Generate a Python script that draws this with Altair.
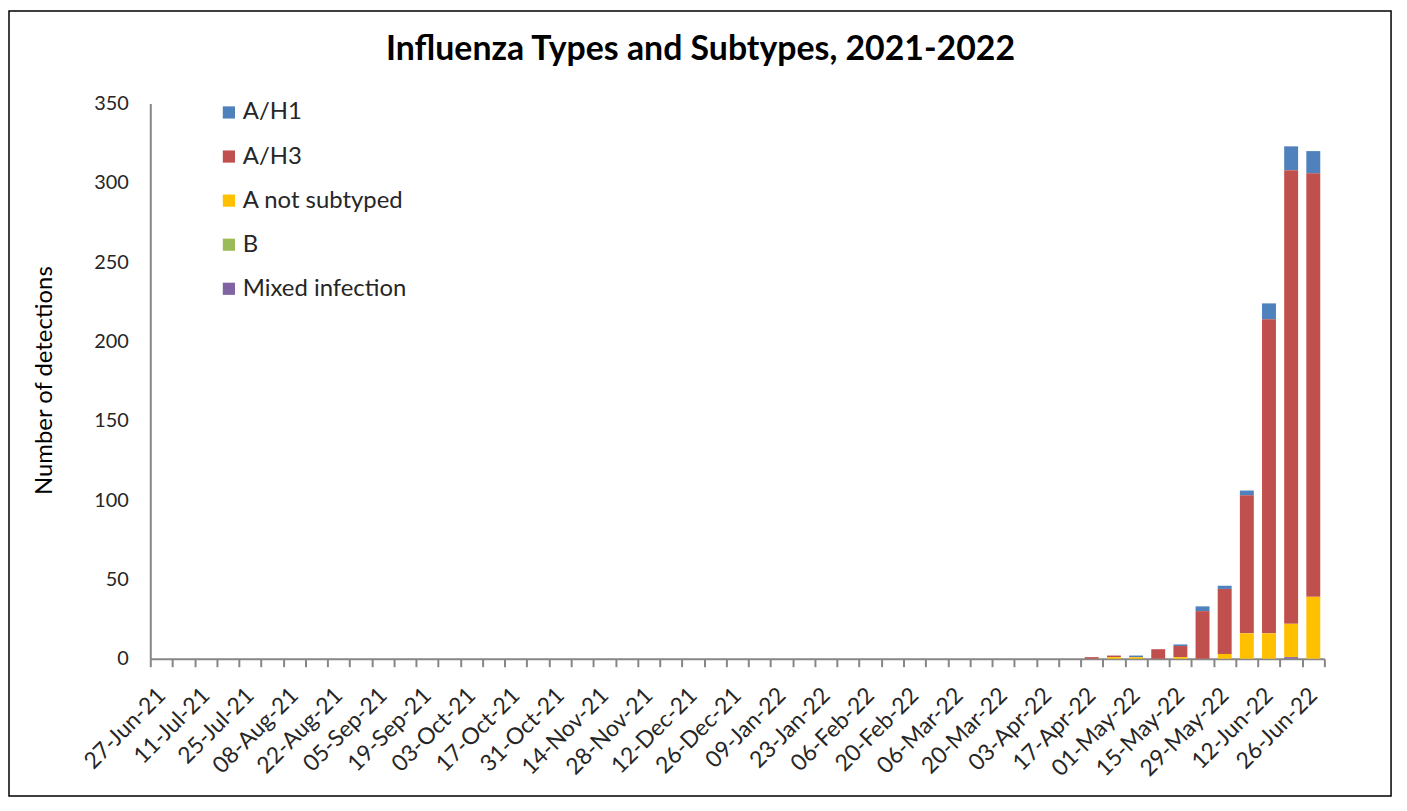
import altair as alt
import pandas as pd

weeks = [d.strftime("%d-%b-%y") for d in pd.date_range("2021-06-27", "2022-06-26", freq="7D")]
label_weeks = weeks[::2]

series = ["A/H1", "A/H3", "A not subtyped", "B", "Mixed infection"]
colors = ["#4F81BD", "#C0504D", "#FFC000", "#9BBB59", "#8064A2"]
stack_rank = [4, 3, 2, 1, 0]

a_h1 = [0] * 42 + [0, 0, 1, 0, 1, 3, 2, 3, 10, 15, 14]
a_h3 = [0] * 42 + [1, 1, 0, 6, 7, 30, 41, 87, 198, 286, 267]
a_not = [0] * 42 + [0, 1, 1, 0, 1, 0, 3, 16, 16, 21, 39]
b_vals = [0] * 42 + [0, 0, 0, 0, 0, 0, 0, 0, 0, 0, 0]
mixed = [0] * 42 + [0, 0, 0, 0, 0, 0, 0, 0, 0, 1, 0]

rows = []
for s, r, vals in zip(series, stack_rank, [a_h1, a_h3, a_not, b_vals, mixed]):
    for w, v in zip(weeks, vals):
        rows.append({"week": w, "series": s, "rank": r, "count": v})
df = pd.DataFrame(rows)

FONT = "Lato"
W, H = 1180, 558
label_js = "[" + ",".join("'%s'" % l for l in label_weeks) + "]"

bars = alt.Chart(df).mark_bar(size=14).encode(
    x=alt.X("week:N", sort=weeks, scale=alt.Scale(domain=weeks, paddingInner=0, paddingOuter=0),
            axis=alt.Axis(title=None, tickBand="extent", labelAngle=315, labelAlign="right",
                          labelBaseline="middle", labelFontSize=23, labelPadding=25,
                          labelExpr="indexof(" + label_js + ", datum.value) >= 0 ? datum.value : ''",
                          labelColor="#262626", labelFont=FONT, labelOverlap=False,
                          domainColor="#868686", domainWidth=2, tickColor="#868686",
                          tickWidth=2, tickSize=8, grid=False)),
    y=alt.Y("count:Q", stack="zero", scale=alt.Scale(domain=[0, 350]),
            axis=alt.Axis(title="Number of detections", values=list(range(0, 351, 50)),
                          labelFontSize=20, labelFont=FONT, labelColor="#262626",
                          labelPadding=22, ticks=False, grid=False,
                          domainColor="#868686", domainWidth=2,
                          titleFontSize=24, titleFont=FONT, titleFontWeight="normal",
                          titleColor="#000000", titleX=-106, titleY=H / 2 - 1, titleAngle=270,
                          titleAlign="center", titleBaseline="middle")),
    color=alt.Color("series:N", scale=alt.Scale(domain=series, range=colors),
                    legend=alt.Legend(title=None, orient="none", legendX=67, legendY=-3,
                                      symbolType="square", symbolSize=150, symbolStrokeWidth=0,
                                      labelFontSize=24, labelFont=FONT, labelColor="#262626",
                                      labelLimit=400, rowPadding=20.3, labelOffset=2)),
    order=alt.Order("rank:Q", sort="ascending"),
)

frame = alt.Chart(pd.DataFrame({"k": [0]})).mark_rect(fill=None, stroke="#000000", strokeWidth=1.5).encode(
    x=alt.value(-142), x2=alt.value(1247), y=alt.value(-93), y2=alt.value(696)
)

chart = alt.layer(bars, frame).properties(
    width=W, height=H,
    autosize=alt.AutoSizeParams(type="none"),
    padding={"left": 143, "top": 94, "right": 75, "bottom": 140},
    title=alt.TitleParams("Influenza Types and Subtypes, 2021-2022", fontSize=34, font=FONT,
                          fontWeight="bold", color="#000000", anchor="middle", frame="group",
                          dx=-37, offset=-57),
).configure(background="white").configure_view(stroke=None)

chart.save("out.html", embed_options={"renderer": "svg", "actions": False})
